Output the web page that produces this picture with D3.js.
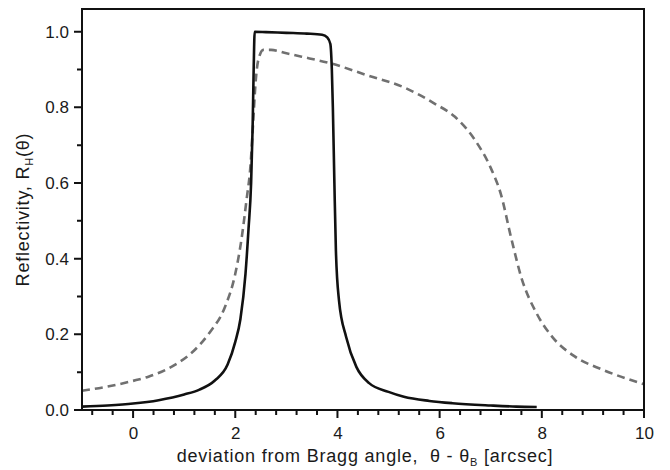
<!DOCTYPE html>
<html>
<head>
<meta charset="utf-8">
<script src="https://cdn.jsdelivr.net/npm/d3@7"></script>
<style>
  body { margin: 0; background: #fff; }
</style>
</head>
<body>
<div id="app"></div>
<script>
// reflectivity curves: [deviation (arcsec), R]
const solidCurve = [
  [-1, 0.009], [-0.5, 0.012], [0, 0.017], [0.5, 0.026], [1, 0.041], [1.3, 0.054],
  [1.6, 0.078], [1.85, 0.12], [2.0, 0.18], [2.1, 0.24], [2.2, 0.36], [2.26, 0.48],
  [2.31, 0.6], [2.34, 0.75], [2.36, 0.9], [2.38, 1.0], [2.6, 0.999], [3.0, 0.997],
  [3.4, 0.995], [3.7, 0.992], [3.8, 0.985], [3.86, 0.968], [3.89, 0.9], [3.91, 0.8],
  [3.94, 0.6], [3.97, 0.42], [4.03, 0.29], [4.17, 0.193], [4.37, 0.114], [4.62, 0.071],
  [5.0, 0.048], [5.3, 0.035], [5.8, 0.024], [6.25, 0.018], [7.0, 0.012], [7.5, 0.009],
  [7.9, 0.008]
]
const dashedCurve = [
  [-1, 0.051], [-0.5, 0.062], [0, 0.077], [0.3, 0.088], [0.8, 0.118], [1.2, 0.158],
  [1.5, 0.205], [1.8, 0.273], [2.0, 0.36], [2.12, 0.45], [2.22, 0.555], [2.3, 0.65],
  [2.35, 0.76], [2.4, 0.87], [2.45, 0.925], [2.55, 0.952], [2.7, 0.952], [3.0, 0.943],
  [3.3, 0.934], [3.9, 0.915], [4.6, 0.884], [5.3, 0.853], [5.9, 0.81], [6.3, 0.775],
  [6.7, 0.712], [7.0, 0.64], [7.2, 0.57], [7.4, 0.455], [7.6, 0.35], [7.9, 0.255],
  [8.2, 0.194], [8.65, 0.141], [9.2, 0.106], [10, 0.068]
]
const xMajor = [0, 2, 4, 6, 8, 10]
const xMinor = [-0.8, -0.4, 0.4, 0.8, 1.2, 1.6, 2.4, 2.8, 3.2, 3.6, 4.4, 4.8, 5.2, 5.6,
  6.4, 6.8, 7.2, 7.6, 8.4, 8.8, 9.2, 9.6]
const yMajor = [0, 0.2, 0.4, 0.6, 0.8, 1.0]
const yMinor = [0.1, 0.3, 0.5, 0.7, 0.9]

const width = 670, height = 470
const plotLeft = 82, plotRight = 644, plotTop = 9, plotBottom = 410
const font = 'Liberation Sans, Arial, sans-serif'
const ink = '#1a1a1a'

const svg = d3.select('#app').append('svg')
  .attr('width', width).attr('height', height)

const x = d3.scaleLinear().domain([-1, 10]).range([plotLeft, plotRight])
const y = d3.scaleLinear().domain([0, 1.06]).range([plotBottom, plotTop])

// axes give the labels
svg.append('g').attr('transform', `translate(0,${plotBottom})`)
  .call(d3.axisBottom(x).tickValues(xMajor).tickSizeInner(8).tickSizeOuter(0).tickPadding(9).tickFormat(d3.format('d')))
  .call(g => g.select('.domain').remove())
  .attr('font-family', font).attr('font-size', 17)
svg.append('g').attr('transform', `translate(${plotLeft},0)`)
  .call(d3.axisLeft(y).tickValues(yMajor).tickSizeInner(8).tickSizeOuter(0).tickPadding(5).tickFormat(d3.format('.1f')))
  .call(g => g.select('.domain').remove())
  .attr('font-family', font).attr('font-size', 17)
svg.selectAll('.tick line').remove()
svg.selectAll('.tick text').attr('fill', ink)

// tick marks as one path per set, the axis <line>s never showed in the picture
const tickMarks = [
  [xMajor, v => `M${x(v)},${plotBottom}v8`],
  [xMinor, v => `M${x(v)},${plotBottom}v5`],
  [yMajor, v => `M${plotLeft},${y(v)}h-8`],
  [yMinor, v => `M${plotLeft},${y(v)}h-5`]
]
svg.selectAll('path.tickmarks')
  .data(tickMarks).enter().append('path')
  .attr('class', 'tickmarks')
  .attr('d', d => d[0].map(d[1]).join(''))
  .attr('fill', 'none')
  .attr('stroke', '#111')
  .attr('stroke-width', 2)

const line = d3.line().x(d => x(d[0])).y(d => y(d[1])).curve(d3.curveMonotoneX)

svg.append('path').datum(dashedCurve)
  .attr('d', line)
  .attr('fill', 'none')
  .attr('stroke', '#707070')
  .attr('stroke-width', 2.6)
  .attr('stroke-dasharray', '8,5')

svg.append('path').datum(solidCurve)
  .attr('d', line)
  .attr('fill', 'none')
  .attr('stroke', '#111')
  .attr('stroke-width', 2.6)
  .attr('stroke-linejoin', 'round')

svg.append('rect')
  .attr('x', plotLeft).attr('y', plotTop)
  .attr('width', plotRight - plotLeft).attr('height', plotBottom - plotTop)
  .attr('fill', 'none').attr('stroke', '#111').attr('stroke-width', 2)

// axis titles
const ylab = svg.append('text')
  .attr('transform', `translate(29,${(plotTop + plotBottom) / 2}) rotate(-90)`)
  .attr('text-anchor', 'middle')
  .attr('font-family', font).attr('font-size', 18).attr('letter-spacing', 0.8)
  .attr('fill', ink)
ylab.append('tspan').text('Reflectivity, R')
ylab.append('tspan').text('H').attr('font-size', 11).attr('dy', 4)
ylab.append('tspan').text('(θ)').attr('dy', -4)

const xlab = svg.append('text')
  .attr('x', (plotLeft + plotRight) / 2 + 2).attr('y', 462)
  .attr('text-anchor', 'middle')
  .attr('font-family', font).attr('font-size', 18).attr('letter-spacing', 0.8)
  .attr('fill', ink)
  .attr('xml:space', 'preserve')
xlab.append('tspan').text('deviation from Bragg angle,  θ - θ')
xlab.append('tspan').text('B').attr('font-size', 11).attr('dy', 4)
xlab.append('tspan').text(' [arcsec]').attr('dy', -4)
</script>
</body>
</html>
